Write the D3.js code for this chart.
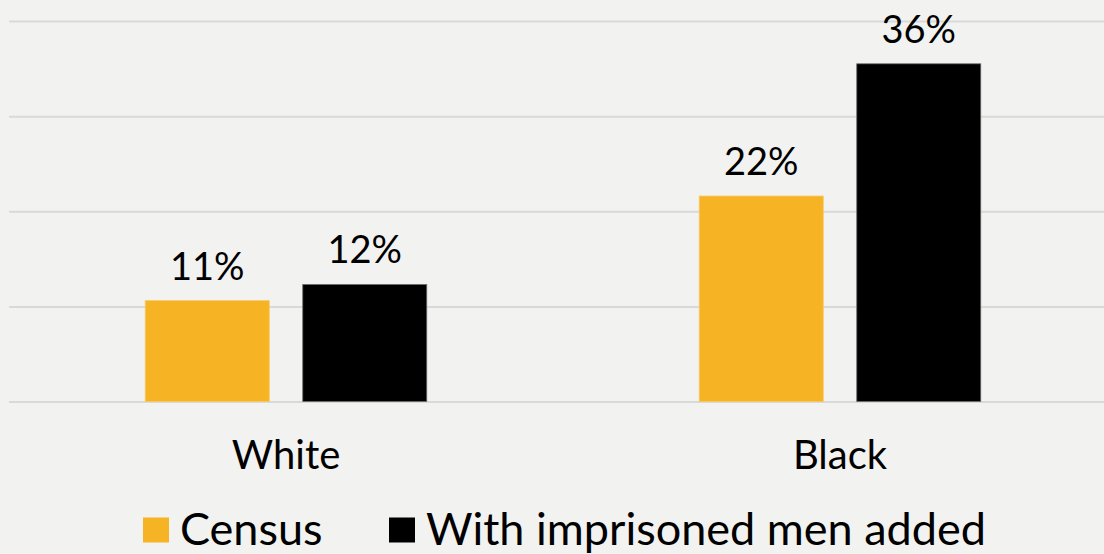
<!DOCTYPE html>
<html>
<head>
<meta charset="utf-8">
<script src="https://cdn.jsdelivr.net/npm/d3@7"></script>
<style>
  html, body { margin: 0; padding: 0; background: #f2f2f0; }
  svg { display: block; }
  text { font-family: "Lato", "Open Sans", sans-serif; fill: #000; }
</style>
</head>
<body>
<svg id="chart" width="1104" height="554"></svg>
<script>
// Share of men, by race, under the census count and with imprisoned men added
const categories = ["White", "Black"];
const seriesNames = ["Census", "With imprisoned men added"];
const censusValues = [10.6, 21.6];
const withImprisonedValues = [12.3, 35.5];
const gridTicks = [0, 10, 20, 30, 40];
const seriesColors = ["#f6b324", "#000000"];

const svg = d3.select("#chart");
const W = 1104, H = 554;

const y = d3.scaleLinear().domain([0, 40]).range([401.5, 21]);
const x0 = d3.scaleBand().domain(categories).range([9, 1117]).padding(0);
const x1 = d3.scaleBand().domain(seriesNames)
  .range([0, x0.bandwidth()])
  .paddingInner(0.2127)
  .paddingOuter(0.865);

// horizontal gridlines
const grid = svg.append("g")
  .attr("transform", "translate(9,0)")
  .call(d3.axisRight(y).tickValues(gridTicks).tickSize(W).tickFormat(""));
grid.select(".domain").remove();
grid.selectAll(".tick line").attr("stroke", "#d9d9d9").attr("stroke-width", 2);

const rows = categories.map((c, i) => ({
  category: c,
  values: [
    { series: seriesNames[0], value: censusValues[i], color: seriesColors[0] },
    { series: seriesNames[1], value: withImprisonedValues[i], color: seriesColors[1] }
  ]
}));

const groups = svg.append("g").selectAll("g")
  .data(rows)
  .join("g")
  .attr("transform", d => `translate(${x0(d.category)},0)`);

groups.selectAll("rect")
  .data(d => d.values)
  .join("rect")
  .attr("x", d => x1(d.series))
  .attr("y", d => y(d.value))
  .attr("width", x1.bandwidth())
  .attr("height", d => y(0) - y(d.value))
  .attr("fill", d => d.color)
  .attr("stroke", (d, i) => i === 1 ? "#6a6a6a" : "#f8c860")
  .attr("stroke-width", 0.8);

const fmt = v => d3.format(".0f")(v) + "%";

groups.selectAll("text.val")
  .data(d => d.values)
  .join("text")
  .attr("class", "val")
  .attr("x", d => x1(d.series) + x1.bandwidth() / 2)
  .attr("y", d => y(d.value) - 21)
  .attr("text-anchor", "middle")
  .attr("font-size", 38)
  .text(d => fmt(d.value));

// category labels
svg.append("g").selectAll("text")
  .data(categories)
  .join("text")
  .attr("x", d => x0(d) + x0.bandwidth() / 2)
  .attr("y", 469)
  .attr("text-anchor", "middle")
  .attr("font-size", 40)
  .text(d => d);

// legend
const legendItems = [
  { name: seriesNames[0], color: seriesColors[0], x: 143 },
  { name: seriesNames[1], color: seriesColors[1], x: 389 }
];
const legend = svg.append("g").selectAll("g")
  .data(legendItems)
  .join("g")
  .attr("transform", d => `translate(${d.x},0)`);
legend.append("rect")
  .attr("x", 0).attr("y", 517.5)
  .attr("width", 26).attr("height", 25)
  .attr("fill", d => d.color);
legend.append("text")
  .attr("x", 37).attr("y", 545)
  .attr("font-size", 45)
  .text(d => d.name);
</script>
</body>
</html>
